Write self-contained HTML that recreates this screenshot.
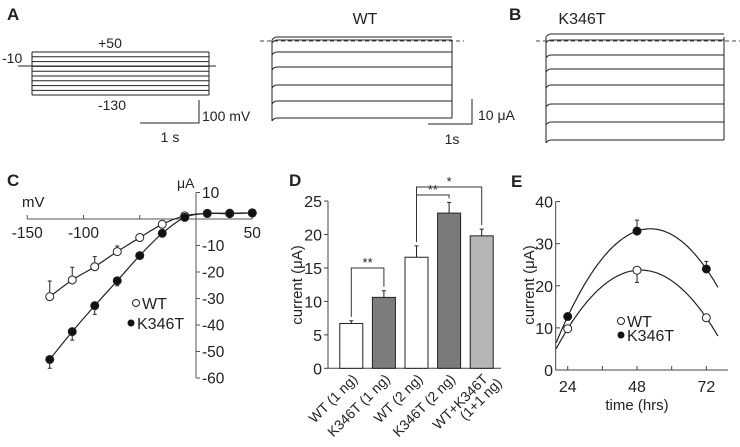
<!DOCTYPE html>
<html><head><meta charset="utf-8"><style>
body{margin:0;background:#fff}
svg{display:block;font-family:"Liberation Sans",Arial,sans-serif}
text{fill:#222}
</style></head><body>
<svg id="fig" width="740" height="447" viewBox="0 0 740 447" xmlns="http://www.w3.org/2000/svg">
<g>
<text x="7" y="20" font-size="17" font-weight="bold">A</text>
<text x="365" y="24" font-size="16" text-anchor="middle">WT</text>
<text x="110" y="48" font-size="14" text-anchor="middle">+50</text>
<text x="2" y="63" font-size="14">-10</text>
<text x="112" y="110" font-size="14" text-anchor="middle">-130</text>
<g id="protocol" stroke="#222" stroke-width="1" fill="none"></g>
<path d="M199 100V123H140" stroke="#222" fill="none"/>
<text x="202" y="121" font-size="14">100 mV</text>
<text x="170" y="142" font-size="14" text-anchor="middle">1 s</text>
<g id="wtTraces" stroke="#222" stroke-width="1" fill="none"></g>
<path d="M472 99V124H428" stroke="#222" fill="none"/>
<text x="478" y="120" font-size="14">10 μA</text>
<text x="452" y="144" font-size="14" text-anchor="middle">1s</text>
</g>
<g>
<text x="509" y="20" font-size="17" font-weight="bold">B</text>
<text x="582" y="24" font-size="16" text-anchor="middle">K346T</text>
<g id="kTraces" stroke="#222" stroke-width="1" fill="none"></g>
</g>
<g id="panelC">
<text x="7" y="186" font-size="17" font-weight="bold">C</text>
</g>
<g id="panelD">
<text x="289" y="186" font-size="17" font-weight="bold">D</text>
</g>
<g id="panelE">
<text x="511" y="187" font-size="17" font-weight="bold">E</text>
</g>
</svg>
<script>
// Panel C data
const ivVoltages=[-130,-110,-90,-70,-50,-30,-10,10,30,50];
const ivWT=[-29.3,-23,-18,-12.3,-7,-2,1.2,2.1,2.2,2.3];
const ivWTerr=[5.9,4.8,3.8,2.1,0,0,0,0,0,0];
const ivK=[-53,-42.5,-32.7,-23.3,-13.8,-5.4,0.6,2.1,2,2.3];
const ivKerr=[3.3,3.2,3.3,1.9,0,0,0,0,0,0];
const ivXTicks=[-150,-100,-50,0,50];
const ivXTickLabels=["-150","-100","","","50"];
const ivYTicks=[10,-10,-20,-30,-40,-50,-60];
// Panel D data
const barCats=[["WT (1 ng)"],["K346T (1 ng)"],["WT (2 ng)"],["K346T (2 ng)"],["WT+K346T","(1+1 ng)"]];
const barVals=[6.7,10.6,16.6,23.2,19.8];
const barErr=[0.4,1.0,1.7,1.6,1.0];
const barColors=["#fff","#7d7d7d","#fff","#7a7a7a","#b5b5b5"];
const barYTicks=[0,5,10,15,20,25];
// Panel E data
const timeX=[24,48,72];
const timeWT=[9.8,23.7,12.4];
const timeWTerr=[0,2.9,0];
const timeK=[12.7,33,24];
const timeKerr=[0,2.6,1.8];
const timeXTicks=[24,36,48,60,72];
const timeXTickLabels=["24","","48","","72"];
const timeYTicks=[0,10,20,30,40];
// Panel A/B trace levels
const protoLevels=[52,56.8,61.6,66.4,71.2,76,80.8,85.6,90.4,95];
const wtLevels=[40,43,52,67,85,101,118];
const kLevels=[37,43,55,69,85,104,122,140];

const NS="http://www.w3.org/2000/svg";
function mk(tag,attrs,parent,txt){const e=document.createElementNS(NS,tag);for(const k in attrs)e.setAttribute(k,attrs[k]);if(txt!==undefined)e.textContent=txt;parent.appendChild(e);return e;}
const fig=document.getElementById('fig');

// Protocol
const pg=document.getElementById('protocol');
protoLevels.forEach(y=>{const l=mk('line',{x1:32,x2:209,y1:y,y2:y},pg);});
let pl=mk('line',{x1:18,x2:216,y1:66,y2:66},pg);


pl=mk('path',{d:'M32 52V95M209 52V95'},pg);



function traces(g,x0,x1,levels,dashY,dx0,dx1){
  levels.forEach((y,i)=>{const p=mk('path',{d:`M${x0} ${y+(i>1?3:0)} q2 -3 5 -3 H${x1}`},g);});
  const e=mk('path',{d:`M${x0} ${levels[0]}V${levels[levels.length-1]+3}M${x1} ${levels[0]}V${levels[levels.length-1]}`},g);
  
  
  const d=mk('line',{x1:dx0,x2:dx1,y1:dashY,y2:dashY,'stroke-dasharray':'4 3',stroke:'#444'},g);
  
  
}
traces(document.getElementById('wtTraces'),272,452,wtLevels,41,260,464);
traces(document.getElementById('kTraces'),546,724,kLevels,41,536,740);

// Panel C
const gc=document.getElementById('panelC');
const cx=v=>196+(v)*1.125, cy=v=>219-v*2.65;
let a=mk('line',{x1:cx(-150),x2:cx(50),y1:219,y2:219,stroke:'#555'},gc);
a=mk('line',{x1:196,x2:196,y1:cy(10),y2:cy(-60),stroke:'#555'},gc);
ivXTicks.forEach((v,i)=>{const t=mk('line',{x1:cx(v),x2:cx(v),y1:219,y2:215,stroke:'#555'},gc);
 if(ivXTickLabels[i]){const tl=mk('text',{x:cx(v),y:238,'font-size':15.5,'text-anchor':'middle'},gc,ivXTickLabels[i]);}});
ivYTicks.forEach(v=>{const t=mk('line',{x1:196,x2:200,y1:cy(v),y2:cy(v),stroke:'#555'},gc);
 const tl=mk('text',{x:202,y:cy(v)+5.5,'font-size':15.5},gc,String(v));});
let t=mk('text',{x:177,y:188,'font-size':14},gc,'μA');
t=mk('text',{x:22,y:207,'font-size':15}, gc,'mV');
function smooth(pts){let d=`M${pts[0][0]} ${pts[0][1]}`;for(let i=0;i<pts.length-1;i++){const p0=pts[i-1]||pts[i],p1=pts[i],p2=pts[i+1],p3=pts[i+2]||p2;
 d+=` C${p1[0]+(p2[0]-p0[0])/6} ${p1[1]+(p2[1]-p0[1])/6} ${p2[0]-(p3[0]-p1[0])/6} ${p2[1]-(p3[1]-p1[1])/6} ${p2[0]} ${p2[1]}`;}return d;}
[[ivWT,ivWTerr,'#fff',-1,'wt'],[ivK,ivKerr,'#111',1,'k346t']].forEach(([vals,err,fill,dir,nm])=>{
 const c=mk('path',{d:smooth(ivVoltages.map((v,i)=>[cx(v),cy(vals[i])])),fill:'none',stroke:'#222','stroke-width':1.2},gc);
 
 ivVoltages.forEach((v,i)=>{if(err[i]>0){const e=mk('path',{d:`M${cx(v)} ${cy(vals[i])}V${cy(vals[i]-dir*err[i])}m-2 0h4`,stroke:'#222',fill:'none'},gc);}
  const p=mk('circle',{cx:cx(v),cy:cy(vals[i]),r:4,fill:fill,stroke:'#222'},gc);});
});
let lg=mk('circle',{cx:136,cy:303,r:3.5,fill:'#fff',stroke:'#222'},gc);
t=mk('text',{x:142,y:309,'font-size':16},gc,'WT');
lg=mk('circle',{cx:131,cy:323,r:3.5,fill:'#111'},gc);
t=mk('text',{x:137,y:329,'font-size':16},gc,'K346T');

// Panel D
const gd=document.getElementById('panelD');
const dy=v=>368.3-v*6.69, dx=i=>351.3+i*32.6;
a=mk('path',{d:`M328 ${dy(25)}V368.3H501`,stroke:'#444',fill:'none'},gd);
barYTicks.forEach(v=>{const tk=mk('line',{x1:324,x2:328,y1:dy(v),y2:dy(v),stroke:'#444'},gd);
 const tl=mk('text',{x:322,y:dy(v)+6,'font-size':16,'text-anchor':'end'},gd,String(v));});
t=mk('text',{x:0,y:0,'font-size':15,'text-anchor':'middle',transform:'translate(302,285) rotate(-90)'},gd,'current (μA)');
barVals.forEach((v,i)=>{const b=mk('rect',{x:dx(i)-11.5,y:dy(v),width:23,height:368.3-dy(v),fill:barColors[i],stroke:'#222'},gd);
 const e=mk('path',{d:`M${dx(i)} ${dy(v)}V${dy(v+barErr[i])}m-2 0h4`,stroke:'#222',fill:'none'},gd);
 barCats[i].forEach((s,j)=>{const tl=mk('text',{x:0,y:0,'font-size':14,'text-anchor':'end',transform:`translate(${dx(i)+7+j*14},${380+j*4}) rotate(-45)`},gd,s);});
});
function bracket(i1,i2,top,stars,nm){const y1=dy(barVals[i1]+barErr[i1])-4,y2=dy(barVals[i2]+barErr[i2])-4;
 const p=mk('path',{d:`M${dx(i1)} ${y1}V${top}H${dx(i2)}V${y2}`,stroke:'#333',fill:'none'},gd);
 const s=mk('text',{x:(dx(i1)+dx(i2))/2,y:top-1,'font-size':13,'text-anchor':'middle'},gd,stars);}
bracket(0,1,268,'**','significance-1ng');
bracket(2,4,187,'*','significance-2ng-mix');
bracket(2,3,195,'**','significance-2ng');

// Panel E
const ge=document.getElementById('panelE');
const ex=h=>498.4+h*2.888, ey=v=>370-v*4.21;
a=mk('path',{d:`M555.7 ${ey(40)}V370H728`,stroke:'#444',fill:'none'},ge);
timeYTicks.forEach(v=>{const tk=mk('line',{x1:555.7,x2:560,y1:ey(v),y2:ey(v),stroke:'#444'},ge);
 const tl=mk('text',{x:553,y:ey(v)+6,'font-size':16,'text-anchor':'end'},ge,String(v));});
timeXTicks.forEach((h,i)=>{const tk=mk('line',{x1:ex(h),x2:ex(h),y1:370,y2:366,stroke:'#444'},ge);
 if(timeXTickLabels[i]){const tl=mk('text',{x:ex(h),y:392,'font-size':16,'text-anchor':'middle'},ge,timeXTickLabels[i]);}});
t=mk('text',{x:637,y:410,'font-size':15,'text-anchor':'middle'},ge,'time (hrs)');
t=mk('text',{x:0,y:0,'font-size':15,'text-anchor':'middle',transform:'translate(534,285) rotate(-90)'},ge,'current (μA)');
function parab(ys){const [x0,x1,x2]=timeX;return h=>ys[0]*(h-x1)*(h-x2)/((x0-x1)*(x0-x2))+ys[1]*(h-x0)*(h-x2)/((x1-x0)*(x1-x2))+ys[2]*(h-x0)*(h-x1)/((x2-x0)*(x2-x1));}
[[timeWT,timeWTerr,'#fff','wt'],[timeK,timeKerr,'#111','k346t']].forEach(([vals,err,fill,nm])=>{
 const f=parab(vals);let d='';for(let h=20;h<=76.01;h+=0.5){const y=Math.min(370,ey(f(h)));d+=(d?'L':'M')+ex(h).toFixed(1)+' '+y.toFixed(1);}
 const c=mk('path',{d:d,fill:'none',stroke:'#222','stroke-width':1.2},ge);
 timeX.forEach((h,i)=>{if(err[i]>0){const e=mk('path',{d:`M${ex(h)} ${ey(vals[i]-(nm=='wt'?err[i]:-err[i]))}V${ey(vals[i])}`+(nm=='wt'?`M${ex(h)-2} ${ey(vals[i]-err[i])}h4`:`M${ex(h)-2} ${ey(vals[i]+err[i])}h4`),stroke:'#222',fill:'none'},ge);}
  const p=mk('circle',{cx:ex(h),cy:ey(vals[i]),r:4,fill:fill,stroke:'#222'},ge);});
});
lg=mk('circle',{cx:621,cy:321,r:3.5,fill:'#fff',stroke:'#222'},ge);
t=mk('text',{x:627,y:327,'font-size':16},ge,'WT');
lg=mk('circle',{cx:621,cy:335,r:3.5,fill:'#111'},ge);
t=mk('text',{x:627,y:341,'font-size':16},ge,'K346T');
</script>
</body></html>
